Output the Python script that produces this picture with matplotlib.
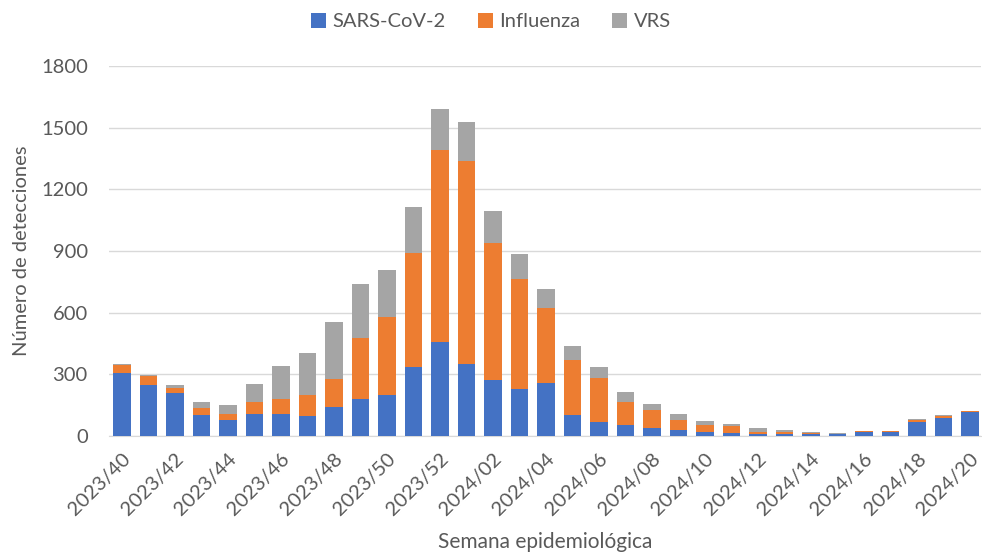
import matplotlib
matplotlib.use('Agg')
import matplotlib.pyplot as plt
import numpy as np

plt.rcParams['font.family'] = ['Lato', 'DejaVu Sans']

# semanas epidemiologicas 2023/40 .. 2024/20
semanas = ['2023/%02d' % w for w in range(40, 53)] + ['2024/%02d' % w for w in range(1, 21)]

sars = [305, 247, 209, 104, 80, 106, 106, 97, 142, 178, 199, 338, 458, 350, 275, 230, 260, 102,
        68, 55, 39, 29, 18, 16, 10, 10, 8, 11, 19, 20, 70, 87, 117]
flu = [40, 45, 24, 32, 29, 61, 73, 101, 137, 297, 382, 553, 934, 990, 663, 532, 364, 267,
       214, 109, 89, 50, 37, 35, 11, 9, 5, 1, 3, 3, 8, 12, 5]
vrs = [5, 3, 15, 31, 44, 86, 160, 204, 277, 263, 226, 224, 198, 190, 159, 123, 89, 70,
       52, 48, 26, 28, 19, 6, 19, 12, 5, 1, 2, 1, 5, 3, 2]

c_sars = '#4472C4'
c_flu = '#ED7D31'
c_vrs = '#A5A5A5'
txt = '#595959'

fig = plt.figure(figsize=(9.82, 5.58), dpi=100)
ax = fig.add_axes([0.1107, 0.2186, 0.888, 0.663])

x = np.arange(len(semanas))
w = 0.66
sars = np.array(sars)
flu = np.array(flu)
vrs = np.array(vrs)
ax.bar(x, sars, w, color=c_sars, label='SARS-CoV-2', zorder=3)
ax.bar(x, flu, w, bottom=sars, color=c_flu, label='Influenza', zorder=3)
ax.bar(x, vrs, w, bottom=sars + flu, color=c_vrs, label='VRS', zorder=3)

ax.set_ylim(0, 1800)
ax.set_yticks(range(0, 1801, 300))
ax.set_xlim(-0.5, 32.4)
ax.set_xticks(x[::2])
ax.set_xticklabels(semanas[::2], rotation=45, ha='right', rotation_mode='anchor')

ax.grid(axis='y', color='#D9D9D9', lw=1, zorder=0)
for s in ['top', 'right', 'left']:
    ax.spines[s].set_visible(False)
ax.spines['bottom'].set_color('#D9D9D9')
ax.tick_params(axis='both', length=0, colors=txt, labelsize=14.5)
ax.tick_params(axis='y', pad=15)
ax.tick_params(axis='x', pad=10)

ax.set_ylabel('Número de detecciones', color=txt, fontsize=14.5, labelpad=8)
ax.set_xlabel('Semana epidemiológica', color=txt, fontsize=15, labelpad=10)

leg = fig.legend(loc='upper center', bbox_to_anchor=(0.5, 1.01), ncol=3, frameon=False,
                 fontsize=14.5, handlelength=0.75, handleheight=0.8, handletextpad=0.3,
                 columnspacing=1.6)
for t in leg.get_texts():
    t.set_color(txt)

fig.savefig('out.png', dpi=100)
